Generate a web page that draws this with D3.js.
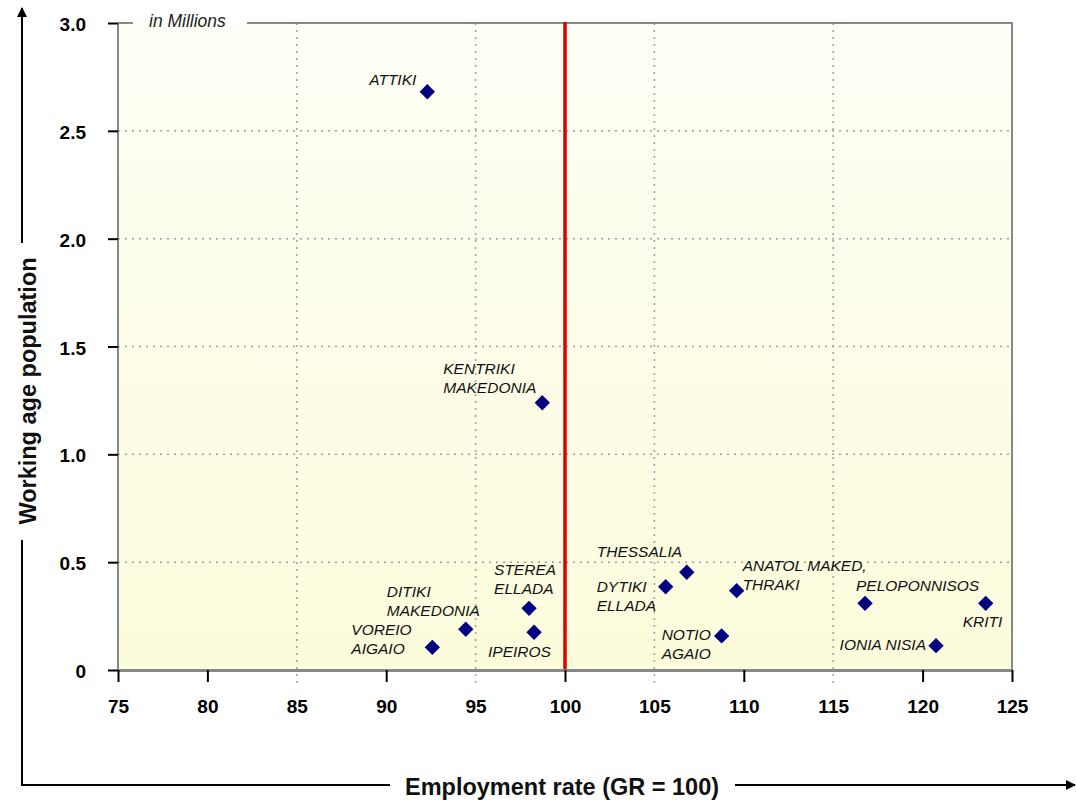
<!DOCTYPE html>
<html><head><meta charset="utf-8">
<script src="https://cdn.jsdelivr.net/npm/d3@7"></script>
<style>body{margin:0;background:#fff}svg{display:block}</style>
</head><body><svg id="c" width="1076" height="800"></svg>
<script>
// ---- data ----
const regions = ["ATTIKI","KENTRIKI MAKEDONIA","STEREA ELLADA","IPEIROS","DITIKI MAKEDONIA","VOREIO AIGAIO","THESSALIA","DYTIKI ELLADA","ANATOL MAKED, THRAKI","NOTIO AGAIO","PELOPONNISOS","KRITI","IONIA NISIA"];
const employmentRate = [92.3, 98.73, 97.99, 98.27, 94.45, 92.58, 106.81, 105.63, 109.6, 108.76, 116.78, 123.53, 120.75];
const workingAgePop = [2.681, 1.239, 0.286, 0.175, 0.189, 0.105, 0.453, 0.386, 0.368, 0.158, 0.309, 0.309, 0.113];
const labelLines = [["ATTIKI"],["KENTRIKI","MAKEDONIA"],["STEREA","ELLADA"],["IPEIROS"],["DITIKI","MAKEDONIA"],["VOREIO","AIGAIO"],["THESSALIA"],["DYTIKI","ELLADA"],["ANATOL MAKED,","THRAKI"],["NOTIO","AGAIO"],["PELOPONNISOS"],["KRITI"],["IONIA NISIA"]];
const xTicks = [75,80,85,90,95,100,105,110,115,120,125];
const xGridTicks = [85,95,105,115];
const yTicks = [0,0.5,1.0,1.5,2.0,2.5,3.0];
const yTickLabels = ["0","0.5","1.0","1.5","2.0","2.5","3.0"];
const referenceRate = 100;
// label layout (offsets from point, pixels)
const labelLayout = [[-11,-7,"end"],[-99,-29,"start"],[-35,-33,"start"],[-46,25,"start"],[-79,-32,"start"],[-81,-12,"start"],[-90,-15,"start"],[-69,5,"start"],[6,-20,"start"],[-60,4,"start"],[-9,-12,"start"],[-23,24,"start"],[-10,4,"end"]];

const svg = d3.select("#c");
const L=118,R=1012,T=23,B=670;
const x = d3.scaleLinear().domain([75,125]).range([L,R]);
const y = d3.scaleLinear().domain([0,3]).range([B,T]);

const defs = svg.append("defs");
const g = defs.append("linearGradient").attr("id","bg").attr("x1",0).attr("y1",0).attr("x2",0).attr("y2",1);
g.append("stop").attr("offset","0%").attr("stop-color","#fefef6");
g.append("stop").attr("offset","100%").attr("stop-color","#fcfcdc");
svg.append("rect").attr("x",L).attr("y",T).attr("width",R-L).attr("height",B-T).attr("fill","url(#bg)");

// horizontal gridlines
svg.append("g").selectAll("line").data(yTicks.filter(d=>d>0&&d<3)).join("line")
  .attr("x1",L).attr("x2",R).attr("y1",d=>y(d)).attr("y2",d=>y(d))
  .attr("stroke","#a0a0a0").attr("stroke-width",1.5).attr("stroke-dasharray","2,5");
// vertical gridlines
svg.append("g").selectAll("line").data(xGridTicks).join("line")
  .attr("x1",d=>x(d)).attr("x2",d=>x(d)).attr("y1",T).attr("y2",B+13)
  .attr("stroke","#a0a0a0").attr("stroke-width",1.5).attr("stroke-dasharray","2,5");

// borders
svg.append("line").attr("x1",L).attr("x2",L).attr("y1",T).attr("y2",B).attr("stroke","#888").attr("stroke-width",2);
svg.append("line").attr("x1",R).attr("x2",R).attr("y1",T).attr("y2",B).attr("stroke","#888").attr("stroke-width",2);
svg.append("line").attr("x1",L).attr("x2",R+1).attr("y1",B+0.5).attr("y2",B+0.5).attr("stroke","#888").attr("stroke-width",3);
svg.append("line").attr("x1",L).attr("x2",133).attr("y1",T).attr("y2",T).attr("stroke","#888").attr("stroke-width",2);
svg.append("line").attr("x1",247).attr("x2",R+1).attr("y1",T).attr("y2",T).attr("stroke","#888").attr("stroke-width",2);
svg.append("text").attr("x",149).attr("y",27).attr("font-family","Liberation Sans, Arial, sans-serif")
  .attr("font-style","italic").attr("font-size",17.5).attr("fill","#222").text("in Millions");

// y axis
const yAxis = d3.axisLeft(y).tickValues(yTicks).tickSize(10).tickFormat((d,i)=>yTickLabels[i]);
const ya = svg.append("g").attr("transform",`translate(${L},0)`).call(yAxis);
ya.select(".domain").remove();
ya.selectAll(".tick line").attr("stroke","#000").attr("stroke-width",2);
ya.selectAll(".tick text").attr("x",-32).attr("dy","0.4em").attr("font-family","Liberation Sans, Arial, sans-serif")
  .attr("font-weight","bold").attr("font-size",19).attr("fill","#000");

// x axis
const xAxis = d3.axisBottom(x).tickValues(xTicks).tickSize(12).tickFormat(d3.format("d"));
const xa = svg.append("g").attr("transform",`translate(0,${B})`).call(xAxis);
xa.select(".domain").remove();
xa.selectAll(".tick line").attr("stroke",d=>xGridTicks.includes(d)?"none":"#000").attr("stroke-width",2);
xa.selectAll(".tick text").attr("y",30).attr("dy","0.71em").attr("font-family","Liberation Sans, Arial, sans-serif")
  .attr("font-weight","bold").attr("font-size",19).attr("fill","#000");

// reference line
svg.append("line").attr("x1",x(referenceRate)).attr("x2",x(referenceRate)).attr("y1",T-1).attr("y2",B-1)
  .attr("stroke","#dd0000").attr("stroke-width",3.5);

// points
const pts = regions.map((r,i)=>({r,x:employmentRate[i],y:workingAgePop[i],lines:labelLines[i],lay:labelLayout[i]}));
svg.append("g").selectAll("path").data(pts).join("path")
  .attr("d",d3.symbol().type(d3.symbolSquare).size(118))
  .attr("transform",d=>`translate(${x(d.x)},${y(d.y)}) rotate(45)`)
  .attr("fill","#000080");

// labels
const lab = svg.append("g").attr("font-family","Liberation Sans, Arial, sans-serif").attr("font-style","italic")
  .attr("font-size",15.5).attr("fill","#111");
pts.forEach(d=>{
  const t = lab.append("text").attr("text-anchor",d.lay[2]);
  d.lines.forEach((ln,j)=>{
    t.append("tspan").attr("x",x(d.x)+d.lay[0]).attr("y",y(d.y)+d.lay[1]+j*19).text(ln);
  });
});

// axis titles and arrows
const mk = defs.append("marker").attr("id","arr").attr("viewBox","0 0 10 10").attr("refX",9).attr("refY",5)
  .attr("markerWidth",10).attr("markerHeight",10).attr("markerUnits","userSpaceOnUse").attr("orient","auto");
mk.append("path").attr("d","M0,0 L10,5 L0,10 Z").attr("fill","#000");
svg.append("line").attr("x1",22).attr("x2",22).attr("y1",786).attr("y2",540).attr("stroke","#000").attr("stroke-width",2);
svg.append("line").attr("x1",22).attr("x2",22).attr("y1",243).attr("y2",8).attr("stroke","#000").attr("stroke-width",2).attr("marker-end","url(#arr)");
svg.append("line").attr("x1",21).attr("x2",390).attr("y1",785).attr("y2",785).attr("stroke","#000").attr("stroke-width",2);
svg.append("line").attr("x1",735).attr("x2",1075).attr("y1",785).attr("y2",785).attr("stroke","#000").attr("stroke-width",2).attr("marker-end","url(#arr)");
svg.append("text").attr("x",562).attr("y",795).attr("text-anchor","middle").attr("font-family","Liberation Sans, Arial, sans-serif")
  .attr("font-weight","bold").attr("font-size",23.5).attr("fill","#111").text("Employment rate (GR = 100)");
svg.append("text").attr("transform","translate(36,391) rotate(-90)").attr("text-anchor","middle").attr("font-family","Liberation Sans, Arial, sans-serif")
  .attr("font-weight","bold").attr("font-size",23.5).attr("fill","#111").text("Working age population");
</script></body></html>
